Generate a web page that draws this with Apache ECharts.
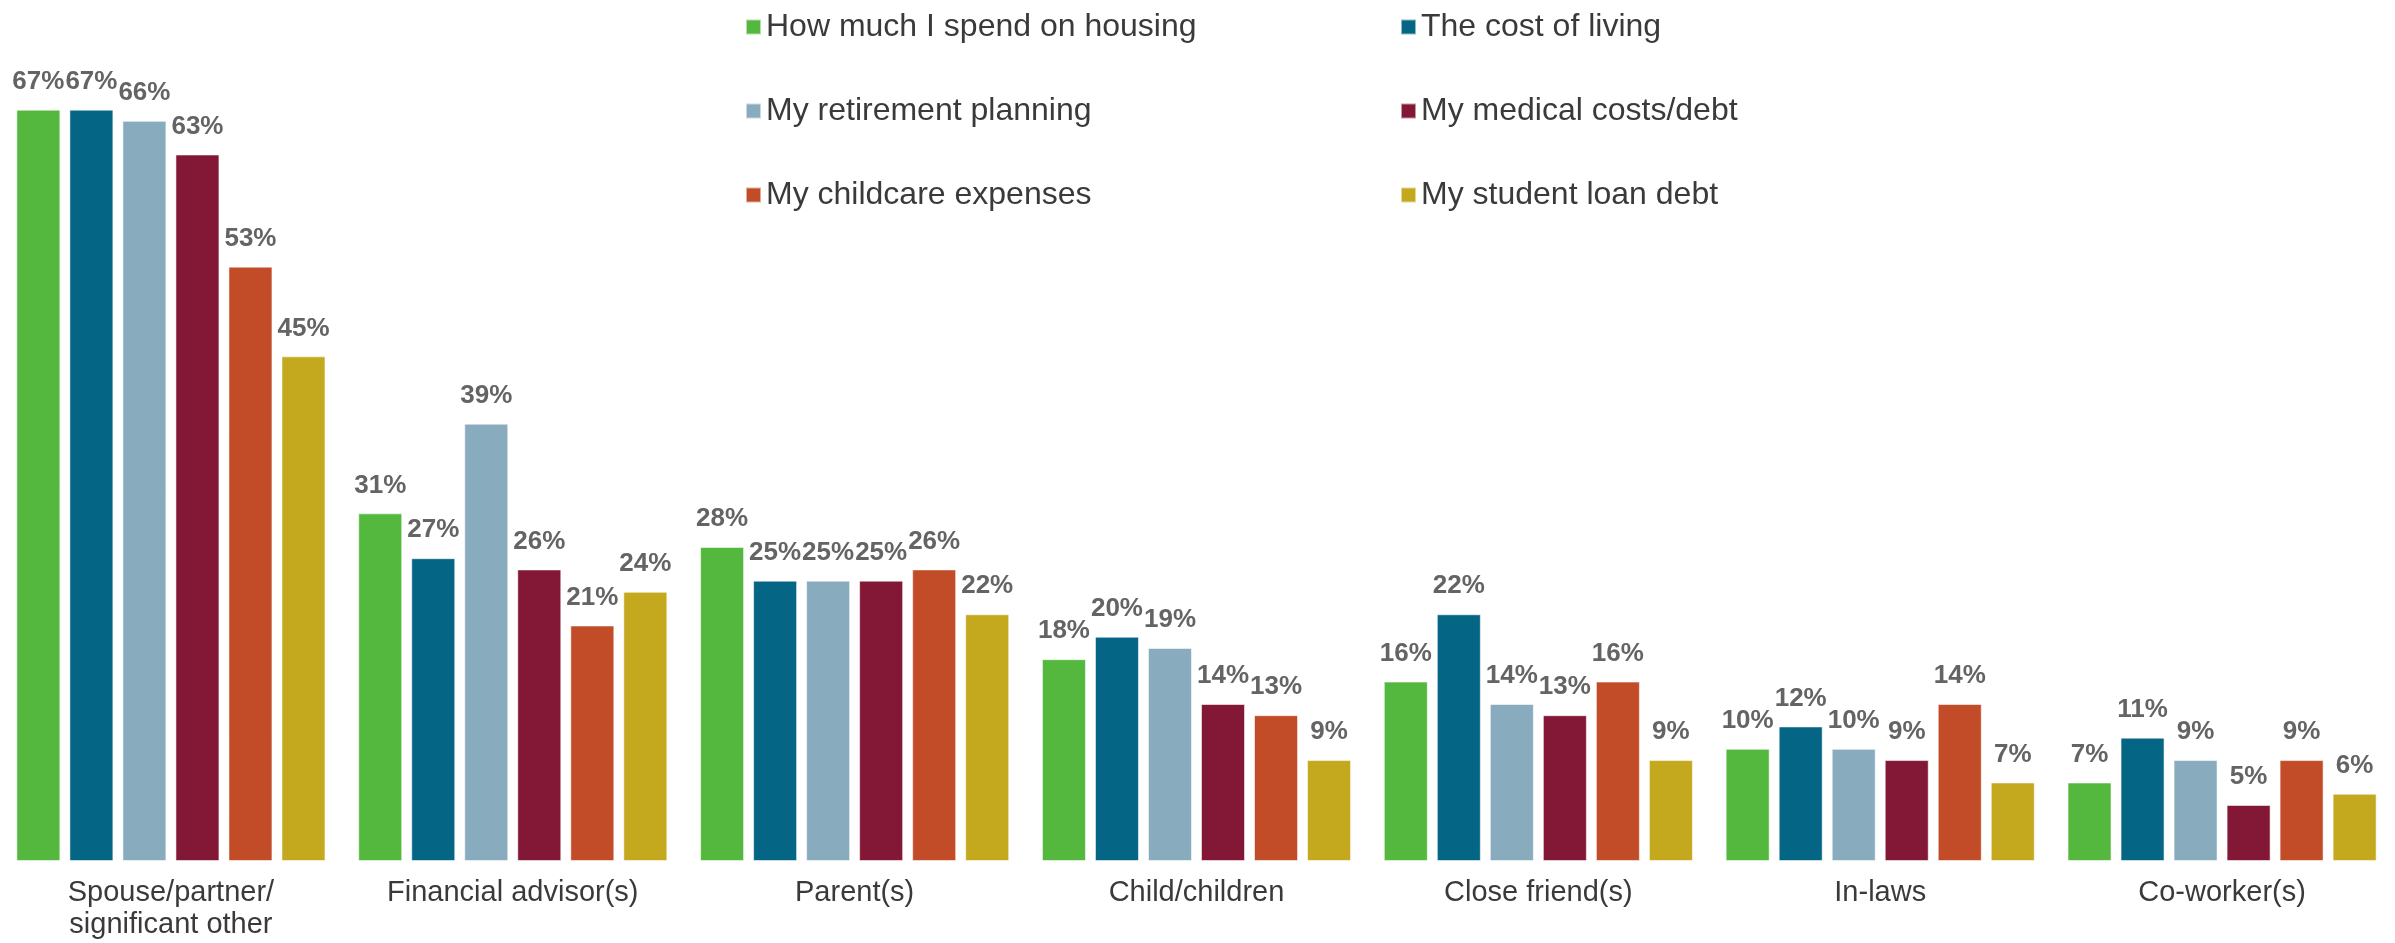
<!DOCTYPE html>
<html>
<head>
<meta charset="utf-8">
<style>
  html, body { margin: 0; padding: 0; background: #ffffff; }
  #chart { width: 2395px; height: 943px; }
</style>
<script src="https://cdn.jsdelivr.net/npm/echarts@6/dist/echarts.min.js"></script>
</head>
<body>
<div id="chart"></div>
<script>
// Who people talk to about each financial topic (% of respondents)
const categories = [
  'Spouse/partner/\nsignificant other',
  'Financial advisor(s)',
  'Parent(s)',
  'Child/children',
  'Close friend(s)',
  'In-laws',
  'Co-worker(s)'
];

const seriesNames = [
  'How much I spend on housing',
  'The cost of living',
  'My retirement planning',
  'My medical costs/debt',
  'My childcare expenses',
  'My student loan debt'
];

const housing    = [67, 31, 28, 18, 16, 10, 7];
const costLiving = [67, 27, 25, 20, 22, 12, 11];
const retirement = [66, 39, 25, 19, 14, 10, 9];
const medical    = [63, 26, 25, 14, 13, 9, 5];
const childcare  = [53, 21, 26, 13, 16, 14, 9];
const studentLoan = [45, 24, 22, 9, 9, 7, 6];

const seriesValues = [housing, costLiving, retirement, medical, childcare, studentLoan];
const colors = ['#55b83e', '#056584', '#88abbe', '#821736', '#c24b28', '#c4a81d'];

const FONT = "'Liberation Sans', Arial, sans-serif";

const chart = echarts.init(document.getElementById('chart'), null, { renderer: 'canvas' });

// Two vertical legend columns sharing the same series
const legendCommon = {
  orient: 'vertical',
  top: 6,
  icon: 'rect',
  itemWidth: 15,
  itemHeight: 15,
  itemGap: 52,
  textStyle: { fontFamily: FONT, fontSize: 32, color: '#3a3a3a', lineHeight: 32 }
};

chart.setOption({
  animation: false,
  backgroundColor: '#ffffff',
  legend: [
    Object.assign({}, legendCommon, { left: 740, data: [seriesNames[0], seriesNames[2], seriesNames[4]] }),
    Object.assign({}, legendCommon, { left: 1395, data: [seriesNames[1], seriesNames[3], seriesNames[5]] })
  ],
  grid: { left: 0, right: 2, top: 76, bottom: 82, containLabel: false },
  xAxis: {
    type: 'category',
    data: categories,
    axisLine: { show: false },
    axisTick: { show: false },
    axisLabel: {
      interval: 0,
      margin: 16,
      fontFamily: FONT,
      fontSize: 29,
      lineHeight: 32,
      color: '#3a3a3a',
      verticalAlign: 'top'
    }
  },
  yAxis: {
    type: 'value',
    min: 0,
    max: 70,
    show: false,
    splitLine: { show: false }
  },
  series: seriesValues.map((vals, i) => ({
    name: seriesNames[i],
    type: 'bar',
    data: vals,
    barWidth: 44,
    barGap: '20.5%',
    itemStyle: {
      color: colors[i],
      borderColor: 'rgba(255,255,255,0.55)',
      borderWidth: 1
    },
    label: {
      show: true,
      position: 'top',
      distance: 15,
      formatter: '{c}%',
      fontFamily: FONT,
      fontSize: 26,
      fontWeight: 'bold',
      color: '#646464'
    }
  }))
});
</script>
</body>
</html>
